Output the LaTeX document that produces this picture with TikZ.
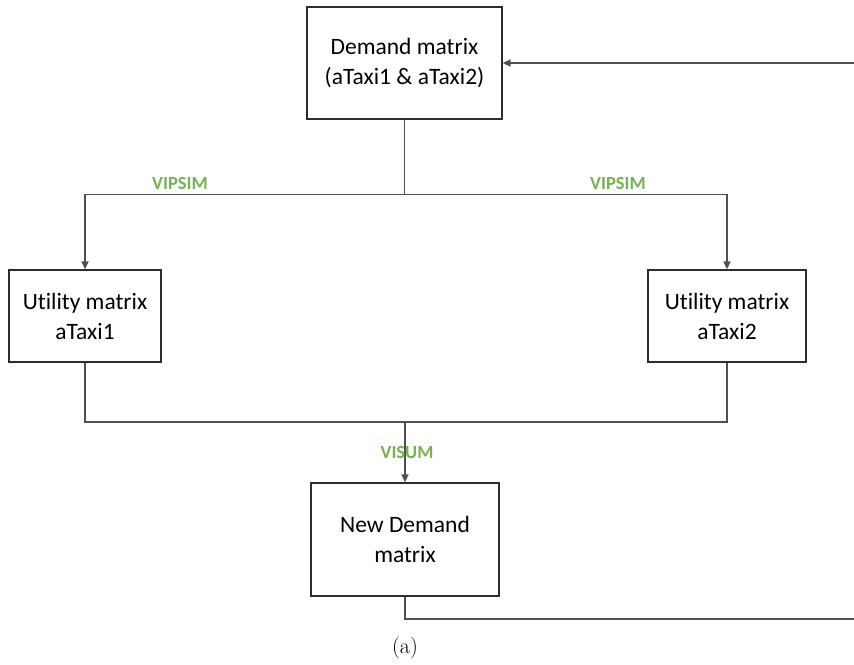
\documentclass[tikz,border=0pt]{standalone}
\usepackage{fontspec}
\setmainfont[Ligatures=CommonOff]{Carlito}
\newfontfamily\capfont{Latin Modern Roman}
\usetikzlibrary{arrows.meta}
\definecolor{lbl}{RGB}{118,178,84}
\definecolor{ln}{RGB}{80,80,80}
\definecolor{bx}{RGB}{45,45,45}
\tikzset{
  boxnode/.style={draw=bx, line width=1.3pt, fill=white, align=center, inner sep=0pt,
    font=\fontsize{23.5}{30}\selectfont},
  conn/.style={draw=ln, line width=1.4pt},
  arr/.style={conn, -{Triangle[length=8pt,width=7pt]}},
  tag/.style={text=lbl, font=\fontsize{18.5}{22}\selectfont\bfseries, inner sep=0pt}
}
\begin{document}
\begin{tikzpicture}[x=1pt,y=-1pt]
\fill[white] (0,0) rectangle (854,664);
\useasboundingbox (0,0) rectangle (854,664);
\node[boxnode, minimum width=195pt, minimum height=112pt] (top) at (404.5,63) {Demand matrix\\(aTaxi1 \& aTaxi2)};
\node[boxnode, minimum width=152pt, minimum height=92pt] (u1) at (85,316) {Utility matrix\\aTaxi1};
\node[boxnode, minimum width=158pt, minimum height=92pt] (u2) at (727,316) {Utility matrix\\aTaxi2};
\node[boxnode, minimum width=188pt, minimum height=113pt] (nd) at (405,539.5) {New Demand\\matrix};
\coordinate (j1) at (404.5,194.5);
\coordinate (j2) at (405,422);
\coordinate (e1) at (854,619);
\coordinate (e2) at (854,63);
\node[tag] (l1) at (180,183) {VIPSIM};
\node[tag] (l2) at (618,183) {VIPSIM};
\draw[conn] (top.south) -- (j1);
\draw[arr] (j1) -| (u1.north);
\draw[arr] (j1) -| (u2.north);
\draw[conn] (u1.south) |- (j2);
\draw[conn] (u2.south) |- (j2);
\draw[arr] (j2) -- (nd.north);
\node[tag] (l3) at (407,452) {VISUM};
\draw[conn] (nd.south) |- (e1);
\draw[arr] (e2) -- (top.east);
\node[font=\capfont\fontsize{22}{26}\selectfont, inner sep=0pt] (cap) at (405,648) {(a)};
\end{tikzpicture}
\end{document}
